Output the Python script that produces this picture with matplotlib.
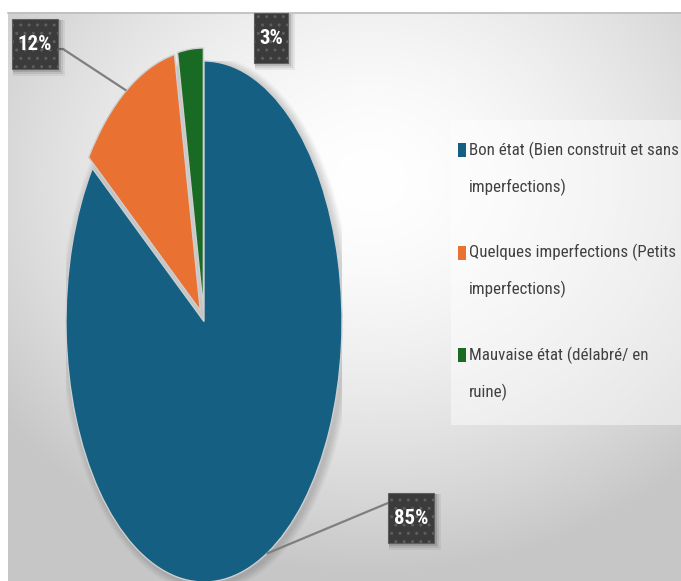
import numpy as np
import matplotlib
matplotlib.use("Agg")
import matplotlib.pyplot as plt
from matplotlib.patches import Rectangle, Ellipse
from matplotlib.lines import Line2D
from matplotlib import font_manager as fm

# ---------------- data ----------------
categories = ["Bon état (Bien construit et sans\nimperfections)",
              "Quelques imperfections (Petits\nimperfections)",
              "Mauvaise état (délabré/ en\nruine)"]
values = [85, 12, 3]
colors = ["#156082", "#E97132", "#196B24"]
explode = [0, 0.05, 0.05]

# ---------------- layout helpers ----------------
W, H, DPI = 681, 581, 100
fig = plt.figure(figsize=(W / DPI, H / DPI), dpi=DPI)
fig.patch.set_facecolor("white")


def fx(x):
    return x / W


def fy(y):
    return 1 - y / H


def pick(fams):
    for f in fams:
        try:
            fm.findfont(fm.FontProperties(family=f), fallback_to_default=False)
            return f
        except Exception:
            pass
    return "DejaVu Sans"


narrow = pick(["Liberation Sans Narrow", "Roboto Condensed", "Open Sans Condensed",
               "Roboto", "Liberation Sans"])
FAM = [narrow, "DejaVu Sans"]

# ---------------- background (radial gradient) ----------------
bg = fig.add_axes([fx(8), 0, 1 - fx(8), fy(12)])
yy, xx = np.mgrid[12:581, 8:681]
d = np.hypot((xx - 370) * 0.85, yy - 180)
v = 1 - 0.21 * np.clip(d / 380, 0, 1.4) ** 1.6
v = np.clip(v, 0.78, 1)
bg.imshow(np.dstack([v, v, v]), extent=[0, 1, 0, 1], aspect="auto", origin="upper")
bg.axis("off")
fig.add_artist(Line2D([fx(8), 1], [fy(12.5), fy(12.5)], color="#bdbdbd", lw=1.2))

# ---------------- pie ----------------
ax = fig.add_axes([fx(66), fy(582), (342 - 66) / W, (582 - 61) / H])
ax.patch.set_alpha(0)

# soft shadow
for k in range(1, 9):
    ax.add_patch(Ellipse((2.5 / 138, -2.5 / 260), 2 + 2 * k / 138, 2 + 2 * k / 260,
                         facecolor="black", alpha=0.02, lw=0, zorder=0))

wedges, _ = ax.pie(values, colors=colors, startangle=90, counterclock=False,
                   explode=explode, radius=1,
                   wedgeprops=dict(edgecolor="#cfcfcf", linewidth=1.0, zorder=2))
ax.set_aspect("auto")
ax.set_xlim(-1, 1)
ax.set_ylim(-1, 1)
ax.axis("off")

# ---------------- data labels ----------------
label_centers = [(411, 518), (35, 44), (271, 38)]   # px, from top-left
leader_elbows = [[(395, 503), (388, 503)], [(57, 49), (63, 49)], None]

fig.canvas.draw()
renderer = fig.canvas.get_renderer()
to_fig = fig.transFigure.inverted()

for i, w in enumerate(wedges):
    cx, cy = label_centers[i]
    t = fig.text(fx(cx), fy(cy), f"{values[i]}%", color="white", fontsize=15,
                 fontweight="bold", family=FAM, ha="center", va="center", zorder=10)
    bb = t.get_window_extent(renderer)
    bw, bh = bb.width + 11, 50
    # shadow
    for k, a in [(6, 0.06), (4, 0.08), (2, 0.12)]:
        fig.add_artist(Rectangle((fx(cx - bw / 2 + 1), fy(cy + bh / 2 + 1 + k)),
                                 (bw + k) / W, (bh + k) / H,
                                 transform=fig.transFigure, facecolor="black",
                                 alpha=a, lw=0, zorder=6))
    fig.add_artist(Rectangle((fx(cx - bw / 2), fy(cy + bh / 2)), bw / W, bh / H,
                             transform=fig.transFigure, facecolor="#3b3b3b",
                             edgecolor="#5e5e5e", hatch="..", lw=0.8, zorder=7))
    if leader_elbows[i] is not None:
        th = np.deg2rad((w.theta1 + w.theta2) / 2)
        px, py = w.center[0] + w.r * np.cos(th), w.center[1] + w.r * np.sin(th)
        ax_pt = to_fig.transform(ax.transData.transform((px, py)))
        xs = [fx(p[0]) for p in leader_elbows[i]] + [ax_pt[0]]
        ys = [fy(p[1]) for p in leader_elbows[i]] + [ax_pt[1]]
        fig.add_artist(Line2D(xs, ys, color="#7f7f7f", lw=1.6, zorder=5,
                              solid_capstyle="butt"))

# ---------------- legend ----------------
fig.add_artist(Rectangle((fx(451), fy(425)), (681 - 451) / W, (425 - 120) / H,
                         transform=fig.transFigure, facecolor="white", alpha=0.45,
                         lw=0, zorder=3))
# fit the legend font so that the longest line spans the legend width
probe = fig.text(0, 0, categories[0].split("\n")[0], fontsize=13.5, family=FAM)
pw = probe.get_window_extent(renderer).width
probe.remove()
leg_fs = 13.5 * 210 / pw

leg_top = 150
leg_step = 102.5
line_gap = 37
for i, cat in enumerate(categories):
    y0 = leg_top + i * leg_step
    fig.add_artist(Rectangle((fx(458), fy(y0 + 7)), 8 / W, 14 / H,
                             transform=fig.transFigure, facecolor=colors[i],
                             lw=0, zorder=4))
    for j, line in enumerate(cat.split("\n")):
        fig.text(fx(469), fy(y0 + j * line_gap), line, color="#404040",
                 fontsize=leg_fs, family=FAM, ha="left", va="center", zorder=4)

fig.savefig("out.png", dpi=DPI)
